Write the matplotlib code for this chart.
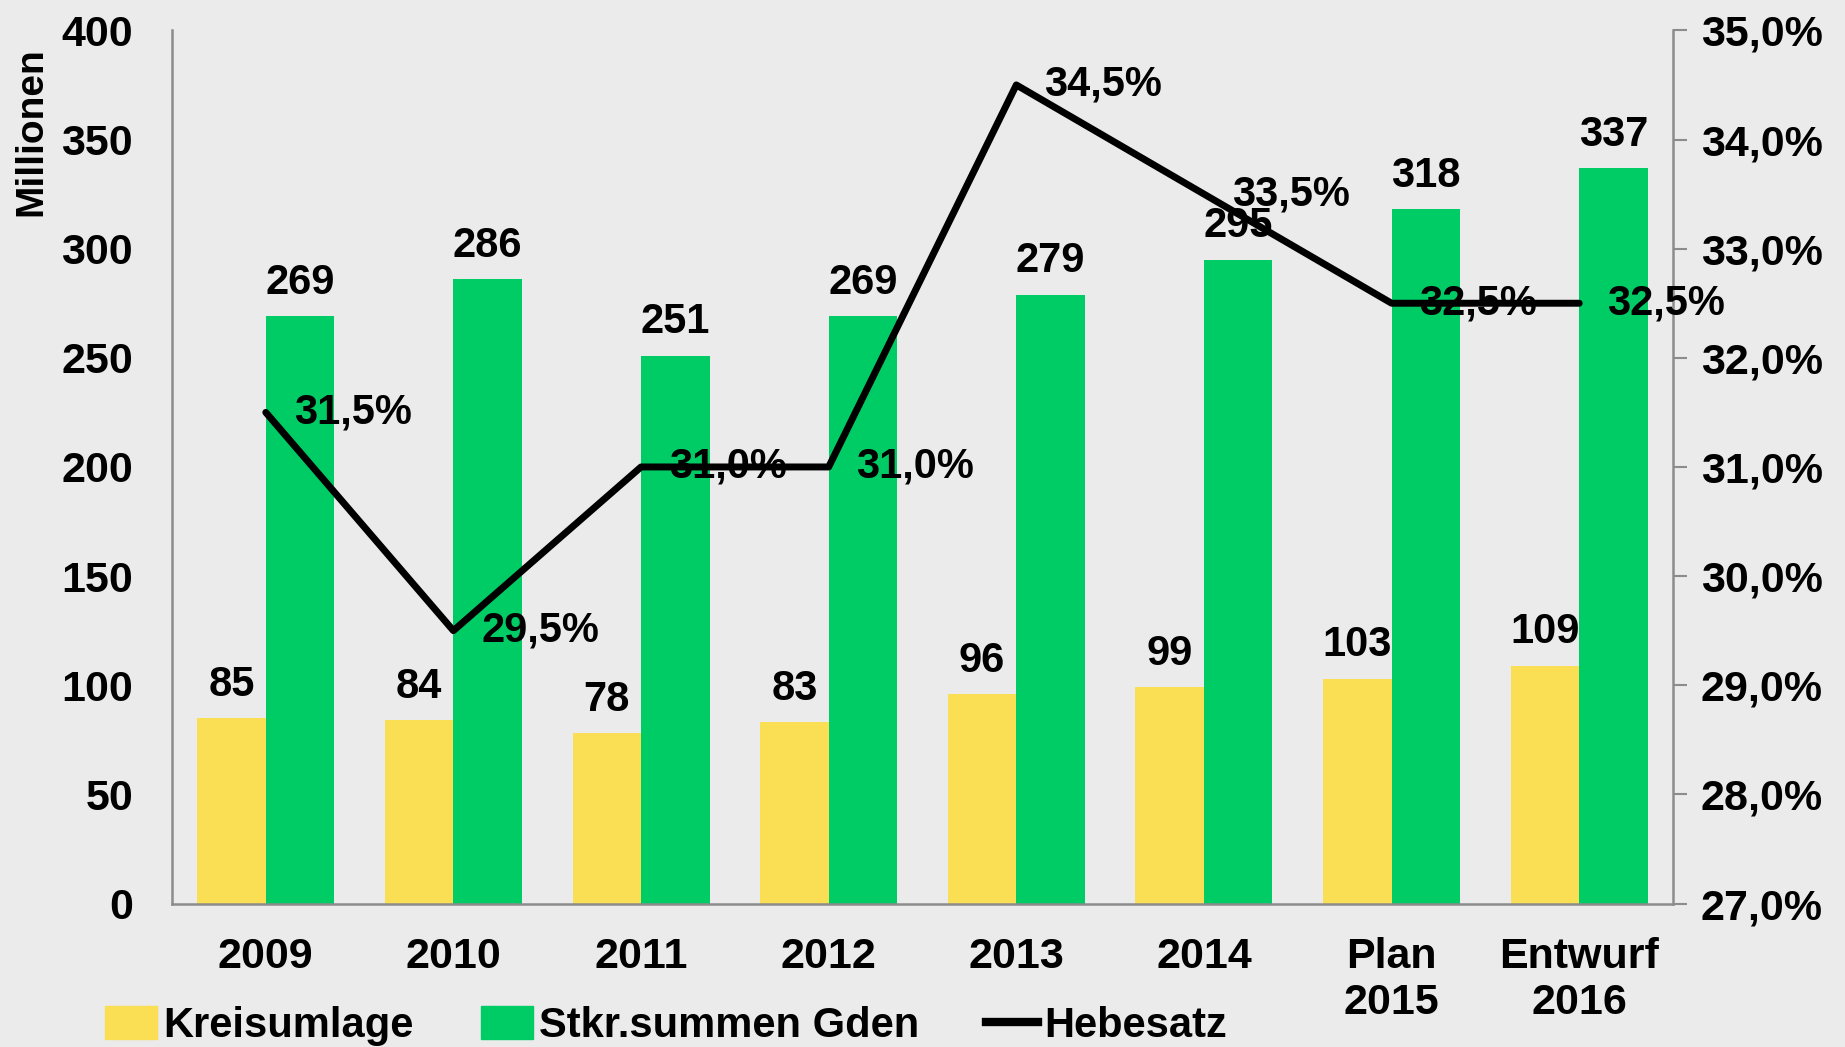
import matplotlib
matplotlib.use("Agg")
import matplotlib.pyplot as plt
from matplotlib.patches import Patch
from matplotlib.lines import Line2D

# data
years = ["2009", "2010", "2011", "2012", "2013", "2014", "Plan\n2015", "Entwurf\n2016"]
kreisumlage = [85, 84, 78, 83, 96, 99, 103, 109]
steuerkraft = [269, 286, 251, 269, 279, 295, 318, 337]
hebesatz = [31.5, 29.5, 31.0, 31.0, 34.5, 33.5, 32.5, 32.5]

YELLOW = "#FADF55"
GREEN = "#00CC66"
BG = "#EBEBEB"
GREY = "#8C8C8C"

plt.rcParams["font.family"] = ["Liberation Sans", "DejaVu Sans"]
plt.rcParams["font.weight"] = "bold"

fig = plt.figure(figsize=(18.45, 10.47), dpi=100, facecolor=BG)
ax = fig.add_axes([0.0932, 0.137, 0.9068 - 0.0932, 0.971 - 0.137])
ax.set_facecolor(BG)
ax2 = ax.twinx()

x = list(range(len(years)))
w = 0.365
b1 = ax.bar([i - w / 2 for i in x], kreisumlage, width=w, color=YELLOW, zorder=2)
b2 = ax.bar([i + w / 2 for i in x], steuerkraft, width=w, color=GREEN, zorder=2)

# value labels above the bars
for bars, vals in ((b1, kreisumlage), (b2, steuerkraft)):
    for bar, v in zip(bars, vals):
        ax.annotate(str(v), (bar.get_x() + bar.get_width() / 2, v),
                    xytext=(0, 24), textcoords="offset points",
                    ha="center", va="center", fontsize=30, fontweight="bold")

ax.set_xlim(-0.5, len(years) - 0.5)
ax.set_ylim(0, 400)
ax.set_yticks(range(0, 401, 50))
ax.set_xticks(x)
ax.set_xticklabels(years)
ax.tick_params(axis="both", length=0, labelsize=31)
ax.tick_params(axis="y", pad=28)
ax.tick_params(axis="x", pad=24)

ax2.plot(x, hebesatz, color="black", lw=5, solid_capstyle="round", zorder=5)
for i, v in zip(x, hebesatz):
    ax2.annotate(f"{v:.1f}%".replace(".", ","), (i, v), xytext=(20, 0),
                 textcoords="offset points", ha="left", va="center",
                 fontsize=30, fontweight="bold")
ax2.set_ylim(27, 35)
ax2.set_yticks(range(27, 36))
ax2.set_yticklabels([f"{t},0%" for t in range(27, 36)])
ax2.tick_params(axis="y", direction="out", length=10, width=1.5, color=GREY,
                labelsize=31, pad=10)

for s in ("top", "right"):
    ax.spines[s].set_visible(False)
for s in ("left", "bottom"):
    ax.spines[s].set_color(GREY)
    ax.spines[s].set_linewidth(1.8)
for s in ("top", "left", "bottom"):
    ax2.spines[s].set_visible(False)
ax2.spines["right"].set_color(GREY)
ax2.spines["right"].set_linewidth(1.8)

fig.text(31 / 1845, 0.874, "Millionen", rotation=90, ha="center", va="center",
         fontsize=28, fontweight="bold")

handles = [Patch(color=YELLOW), Patch(color=GREEN), Line2D([], [], color="black", lw=6)]
fig.legend(handles, ["Kreisumlage", "Stkr.summen Gden", "Hebesatz"],
           loc="center left", bbox_to_anchor=(0.057, 0.02), ncol=3, frameon=False,
           fontsize=30, handlelength=1.25, handleheight=0.85, handletextpad=0.15,
           columnspacing=1.6, borderpad=0, borderaxespad=0)

fig.savefig("out.png", dpi=100, facecolor=BG)
